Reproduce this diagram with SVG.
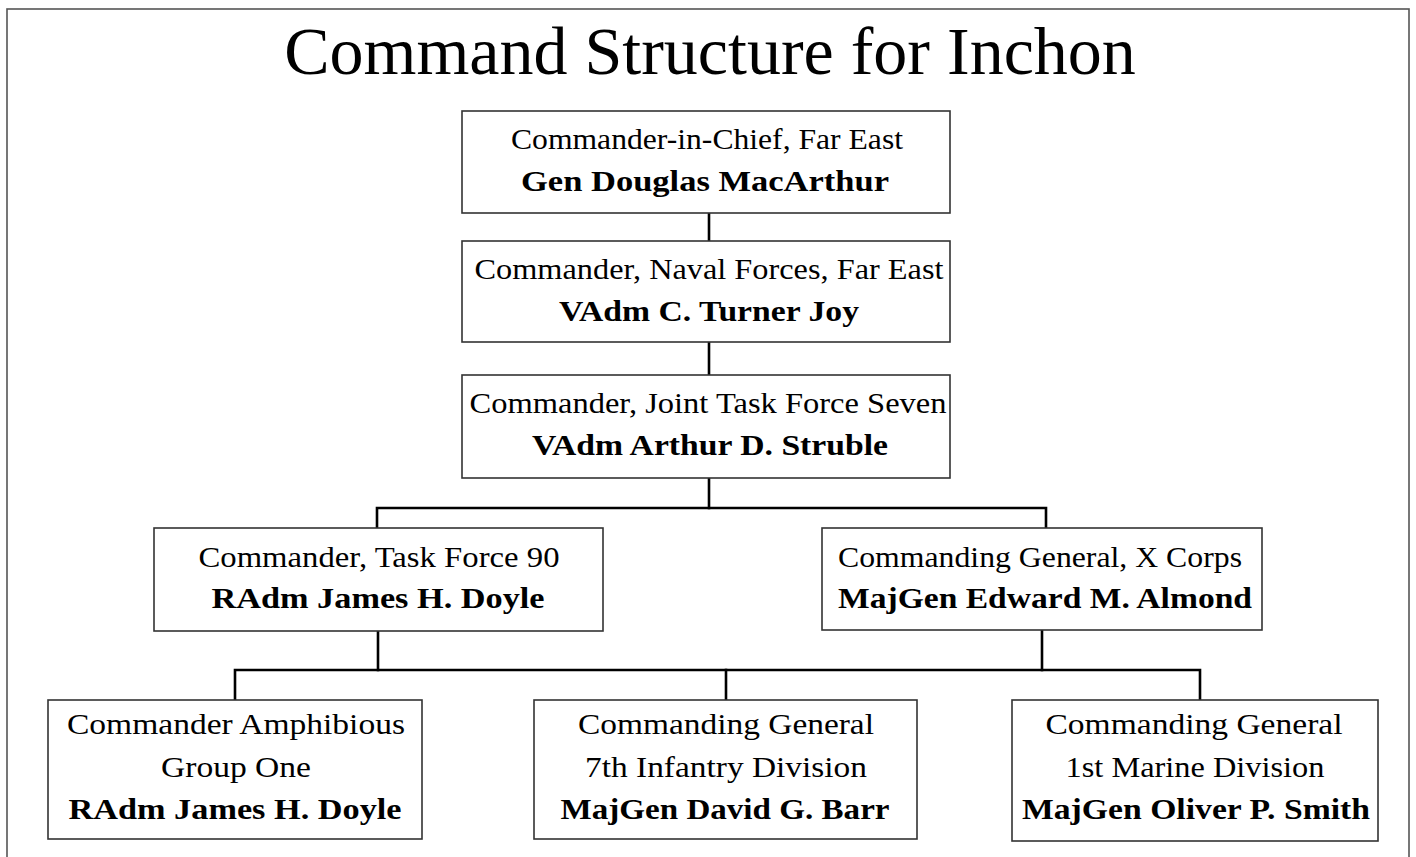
<svg xmlns="http://www.w3.org/2000/svg" width="1416" height="857" viewBox="0 0 1416 857">
<style>
  .frame { fill: none; stroke: #555; stroke-width: 1.6; }
  .box { fill: #fff; stroke: #333; stroke-width: 1.6; }
  .conn { fill: none; stroke: #000; stroke-width: 2.6; stroke-linecap: square; }
  .txt { font-family: 'Liberation Serif', 'DejaVu Serif', serif; fill: #000; text-anchor: middle; }
  .title { font-size: 68px; }
  .t { font-size: 29px; }
  .b { font-size: 29px; font-weight: bold; }
</style>
<rect width="1416" height="857" fill="#fff"/>
<rect class="frame" x="7" y="9" width="1402" height="900"/>
<g class="txt" font-family="Liberation Serif, DejaVu Serif, serif">
<text class="title" x="710" y="74">Command Structure for Inchon</text>
</g>

<g id="connectors">
  <line class="conn" x1="709" y1="213" x2="709" y2="241"/>
  <line class="conn" x1="709" y1="342" x2="709" y2="375"/>
  <line class="conn" x1="709" y1="478" x2="709" y2="508"/>
  <polyline class="conn" points="377,528 377,508 1046,508 1046,528"/>
  <line class="conn" x1="378" y1="631" x2="378" y2="670"/>
  <line class="conn" x1="1042" y1="630" x2="1042" y2="670"/>
  <polyline class="conn" points="235,700 235,670 1200,670 1200,700"/>
  <line class="conn" x1="726" y1="670" x2="726" y2="700"/>
</g>

<g id="cincfe" class="txt" font-family="Liberation Serif, DejaVu Serif, serif">
  <rect class="box" x="462" y="111" width="488" height="102"/>
  <text class="t" x="707" y="149" textLength="392" lengthAdjust="spacingAndGlyphs">Commander-in-Chief, Far East</text>
  <text class="b" x="705" y="191" textLength="368" lengthAdjust="spacingAndGlyphs">Gen Douglas MacArthur</text>
</g>

<g id="comnavfe" class="txt" font-family="Liberation Serif, DejaVu Serif, serif">
  <rect class="box" x="462" y="241" width="488" height="101"/>
  <text class="t" x="709" y="279" textLength="469" lengthAdjust="spacingAndGlyphs">Commander, Naval Forces, Far East</text>
  <text class="b" x="709" y="321" textLength="300" lengthAdjust="spacingAndGlyphs">VAdm C. Turner Joy</text>
</g>

<g id="jtf7" class="txt" font-family="Liberation Serif, DejaVu Serif, serif">
  <rect class="box" x="462" y="375" width="488" height="103"/>
  <text class="t" x="708" y="413" textLength="477" lengthAdjust="spacingAndGlyphs">Commander, Joint Task Force Seven</text>
  <text class="b" x="710" y="455" textLength="356" lengthAdjust="spacingAndGlyphs">VAdm Arthur D. Struble</text>
</g>

<g id="tf90" class="txt" font-family="Liberation Serif, DejaVu Serif, serif">
  <rect class="box" x="154" y="528" width="449" height="103"/>
  <text class="t" x="379" y="567" textLength="361" lengthAdjust="spacingAndGlyphs">Commander, Task Force 90</text>
  <text class="b" x="378" y="608" textLength="333" lengthAdjust="spacingAndGlyphs">RAdm James H. Doyle</text>
</g>

<g id="xcorps" class="txt" font-family="Liberation Serif, DejaVu Serif, serif">
  <rect class="box" x="822" y="528" width="440" height="102"/>
  <text class="t" x="1040" y="567" textLength="404" lengthAdjust="spacingAndGlyphs">Commanding General, X Corps</text>
  <text class="b" x="1045" y="608" textLength="414" lengthAdjust="spacingAndGlyphs">MajGen Edward M. Almond</text>
</g>

<g id="phibgru1" class="txt" font-family="Liberation Serif, DejaVu Serif, serif">
  <rect class="box" x="48" y="700" width="374" height="139"/>
  <text class="t" x="236" y="734" textLength="338" lengthAdjust="spacingAndGlyphs">Commander Amphibious</text>
  <text class="t" x="236" y="777" textLength="150" lengthAdjust="spacingAndGlyphs">Group One</text>
  <text class="b" x="235" y="819" textLength="333" lengthAdjust="spacingAndGlyphs">RAdm James H. Doyle</text>
</g>

<g id="inf7" class="txt" font-family="Liberation Serif, DejaVu Serif, serif">
  <rect class="box" x="534" y="700" width="383" height="139"/>
  <text class="t" x="726" y="734" textLength="296" lengthAdjust="spacingAndGlyphs">Commanding General</text>
  <text class="t" x="726" y="777" textLength="282" lengthAdjust="spacingAndGlyphs">7th Infantry Division</text>
  <text class="b" x="725" y="819" textLength="329" lengthAdjust="spacingAndGlyphs">MajGen David G. Barr</text>
</g>

<g id="mar1" class="txt" font-family="Liberation Serif, DejaVu Serif, serif">
  <rect class="box" x="1012" y="700" width="366" height="141"/>
  <text class="t" x="1194" y="734" textLength="297" lengthAdjust="spacingAndGlyphs">Commanding General</text>
  <text class="t" x="1195" y="777" textLength="259" lengthAdjust="spacingAndGlyphs">1st Marine Division</text>
  <text class="b" x="1196" y="819" textLength="348" lengthAdjust="spacingAndGlyphs">MajGen Oliver P. Smith</text>
</g>
</svg>
